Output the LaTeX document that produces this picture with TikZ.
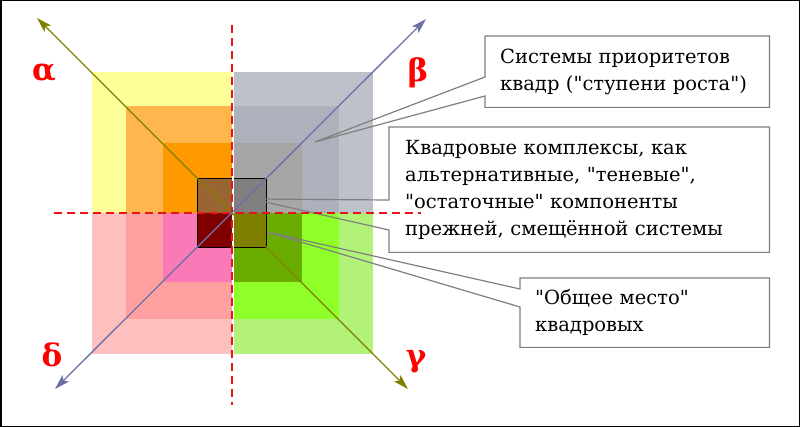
\documentclass[tikz,border=0pt]{standalone}
\usepackage{fontspec}
\setmainfont{DejaVu Serif}
\newfontfamily\boxfont{DejaVu Serif}
\usepackage{xcolor}
\definecolor{frameDark}{HTML}{000000}
\definecolor{axisOlive}{HTML}{808000}
\definecolor{axisSlate}{HTML}{6F6FA8}
\definecolor{calloutGray}{HTML}{7F7F7F}
\definecolor{guideRed}{HTML}{E8141A}
% alpha quadrant
\definecolor{ylwOut}{HTML}{FFFF99}
\definecolor{ylwMid}{HTML}{FFB74D}
\definecolor{ylwIn}{HTML}{FF9900}
\definecolor{ylwCore}{HTML}{996633}
% beta quadrant
\definecolor{slateOut}{HTML}{BDC1C9}
\definecolor{slateMid}{HTML}{ADB1BC}
\definecolor{slateIn}{HTML}{A6A6A6}
\definecolor{slateCore}{HTML}{808080}
% delta quadrant
\definecolor{pinkOut}{HTML}{FFBFBF}
\definecolor{pinkMid}{HTML}{FFA0A0}
\definecolor{pinkIn}{HTML}{F97AB7}
\definecolor{pinkCore}{HTML}{800000}
% gamma quadrant
\definecolor{greenOut}{HTML}{B3F278}
\definecolor{greenMid}{HTML}{8EFF28}
\definecolor{greenIn}{HTML}{6AAD00}
\definecolor{greenCore}{HTML}{808000}
\usepackage{tikz}
\usetikzlibrary{arrows.meta,positioning,calc}
\tikzset{%
  calloutBox/.style={%
    rectangle,
    fill=white,
    draw=none,
    inner ysep=0pt,
    align=left,
    font=\boxfont\fontsize{19.5}{27}\selectfont
  },
  calloutLine/.style={%
    draw=calloutGray,
    line width=1.2pt,
    line join=miter
  },
  axisArrow/.style={%
    {Stealth[length=15pt,width=9pt,inset=3pt]}-{Stealth[length=15pt,width=9pt,inset=3pt]},
    line width=1.3pt
  },
  guideLine/.style={%
    draw=guideRed,
    line width=1.2pt,
    dash pattern=on 8pt off 5pt
  },
  greekLabel/.style={%
    text=red,
    inner sep=0pt,
    font=\boxfont\fontsize{31}{31}\selectfont\bfseries
  }
}

\begin{document}
\begin{tikzpicture}[x=1pt,y=-1pt]
  \useasboundingbox (0,0) rectangle (800,427);
  \draw[frameDark, line width=1.5pt] (0.75,0.75) rectangle (799.25,426.25);

  \coordinate (O) at (232,213);

  % nested squares, one colour per quadrant
  \foreach \r/\tl/\tr/\bl/\br in {140.5/ylwOut/slateOut/pinkOut/greenOut,
                                  106.5/ylwMid/slateMid/pinkMid/greenMid,
                                  69.5/ylwIn/slateIn/pinkIn/greenIn,
                                  34.5/ylwCore/slateCore/pinkCore/greenCore}{
    \fill[\tl] (O) rectangle ++(-\r,-\r);
    \fill[\tr] (O) rectangle ++(\r,-\r);
    \fill[\bl] (O) rectangle ++(-\r,\r);
    \fill[\br] (O) rectangle ++(\r,\r);
  }
  \draw[black, line width=1.3pt] ($(O)+(-34.5,-34.5)$) rectangle ($(O)+(34.5,34.5)$);

  % callouts
  \node[calloutBox, text width=254pt, inner xsep=15pt, minimum height=71pt, anchor=north west] (prioBox) at (485,36)
    {Системы приоритетов\\квадр ("ступени роста")};
  \node[calloutBox, text width=348pt, inner xsep=16pt, minimum height=125pt, anchor=north west] (shadowBox) at (389,127)
    {Квадровые комплексы, как\\альтернативные, "теневые",\\"остаточные" компоненты\\прежней, смещённой системы};
  \node[calloutBox, text width=219pt, inner xsep=15pt, minimum height=69pt, anchor=north west] (commonBox) at (520,278)
    {"Общее место"\\квадровых};

  \coordinate (prioTip) at (315,142);
  \coordinate (prioBaseA) at (485,77);
  \coordinate (prioBaseB) at (485,96);
  \coordinate (shadowTip) at (252,199);
  \coordinate (shadowBaseA) at (389,200);
  \coordinate (shadowBaseB) at (389,230);
  \coordinate (commonTip) at (267,232);
  \coordinate (commonBaseA) at (520,289);
  \coordinate (commonBaseB) at (520,307);

  \draw[calloutLine] (prioBox.south west) -- (prioBaseB) -- (prioTip) -- (prioBaseA) -- (prioBox.north west)
    -- (prioBox.north east) -- (prioBox.south east) -- cycle;
  \draw[calloutLine] (shadowBox.south west) -- (shadowBaseB) -- (shadowTip) -- (shadowBaseA) -- (shadowBox.north west)
    -- (shadowBox.north east) -- (shadowBox.south east) -- cycle;
  \draw[calloutLine] (commonBox.south west) -- (commonBaseB) -- (commonTip) -- (commonBaseA) -- (commonBox.north west)
    -- (commonBox.north east) -- (commonBox.south east) -- cycle;

  % dashed axes
  \coordinate (vTop) at (232,25);
  \coordinate (vBot) at (232,405);
  \coordinate (hLeft) at (54,213);
  \coordinate (hRight) at (421,213);
  \draw[white, line width=1.2pt] ([xshift=1pt]vTop) -- ([xshift=1pt]vBot);
  \draw[guideLine] (vTop) -- (vBot);
  \draw[guideLine] (hLeft) -- (hRight);

  % diagonal arrows
  \coordinate (alphaEnd) at (37,18);
  \coordinate (gammaEnd) at (408,389);
  \coordinate (betaEnd) at (426,19);
  \coordinate (deltaEnd) at (55,389);
  \draw[axisArrow, axisOlive] (gammaEnd) -- (alphaEnd);
  \draw[axisArrow, axisSlate] (deltaEnd) -- (betaEnd);

  \node[greekLabel] (alpha) at (44,73) {α};
  \node[greekLabel] (beta) at (418,73) {β};
  \node[greekLabel] (delta) at (52,355) {δ};
  \node[greekLabel] (gamma) at (416,362) {γ};
\end{tikzpicture}
\end{document}
